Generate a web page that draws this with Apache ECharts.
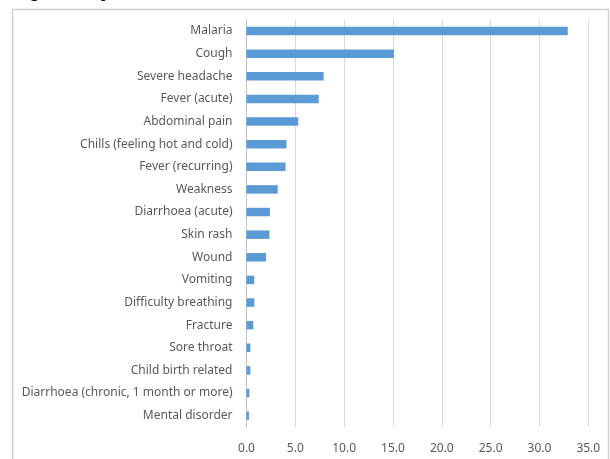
<!DOCTYPE html>
<html><head><meta charset="utf-8">
<script src="https://cdn.jsdelivr.net/npm/echarts@6/dist/echarts.min.js"></script>
<style>html,body{margin:0;padding:0;background:#fff}#c{width:610px;height:459px}</style>
</head><body><div id="c"></div>
<script>
const categories = ["Malaria","Cough","Severe headache","Fever (acute)","Abdominal pain","Chills (feeling hot and cold)","Fever (recurring)","Weakness","Diarrhoea (acute)","Skin rash","Wound","Vomiting","Difficulty breathing","Fracture","Sore throat","Child birth related","Diarrhoea (chronic, 1 month or more)","Mental disorder"];
const values = [32.9,15.1,7.9,7.4,5.3,4.1,4.0,3.2,2.4,2.35,2.0,0.8,0.8,0.7,0.4,0.4,0.3,0.25];
const xTicks = [0,5,10,15,20,25,30,35];
const titleText = "Figure 4: Reported illnesses and diseases";

const chart = echarts.init(document.getElementById('c'), null, {renderer:'canvas'});
chart.setOption({
  animation:false,
  graphic:[
    {type:'rect', shape:{x:12.5,y:9.5,width:596,height:470}, style:{fill:'none',stroke:'#d0d0d0',lineWidth:1.5}, z:-1},
    {type:'text', left:16, top:-15, style:{text:titleText, font:'bold 16px "Liberation Serif"', fill:'#000'}}
  ],
  grid:{left:246.5, right:21.7, top:19.7, bottom:32, containLabel:false},
  xAxis:{type:'value', min:xTicks[0], max:xTicks[xTicks.length-1], interval:5,
    axisLine:{show:false}, axisTick:{show:false},
    splitLine:{lineStyle:{color:'#d9d9d9',width:1}},
    axisLabel:{color:'#595959', fontFamily:'Noto Sans', fontSize:12, margin:16, formatter:v=>v.toFixed(1)}},
  yAxis:{type:'category', data:categories, inverse:true,
    axisLine:{lineStyle:{color:'#bfbfbf'}}, axisTick:{show:false},
    axisLabel:{color:'#595959', fontFamily:'Noto Sans', fontSize:12, margin:14}},
  series:[{type:'bar', data:values, barWidth:8.5, itemStyle:{color:'#5b9bd5'}}]
});
</script></body></html>
